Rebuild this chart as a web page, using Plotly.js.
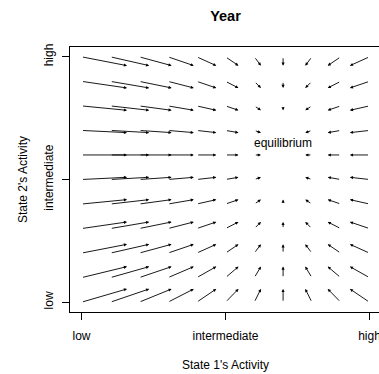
<!DOCTYPE html>
<html>
<head>
<meta charset="utf-8">
<script src="https://cdn.plot.ly/plotly-3.0.1.min.js"></script>
<style>
  html, body { margin: 0; padding: 0; overflow: hidden; background: #fff; }
  #chart { width: 381px; height: 374px; }
</style>
</head>
<body>
<div id="chart"></div>
<script>
// Grid of starting activity levels for both states (0 = low, 1 = high)
const state1Levels = [0, 0.1, 0.2, 0.3, 0.4, 0.5, 0.6, 0.7, 0.8, 0.9, 1];
const state2Levels = [0, 0.1, 0.2, 0.3, 0.4, 0.5, 0.6, 0.7, 0.8, 0.9, 1];

// One year's change in State 1's activity, by State 1's starting level
const state1Change = [0.158, 0.135, 0.113, 0.090, 0.068, 0.045, 0.023, 0.000, -0.023, -0.045, -0.068];
// One year's change in State 2's activity, by State 2's starting level
const state2Change = [0.054, 0.045, 0.036, 0.027, 0.018, 0.009, 0.000, -0.009, -0.018, -0.027, -0.036];

const tickVals = [0, 0.5, 1];
const tickText = ['low', 'intermediate', 'high'];

const equilibrium = { x: 0.7, y: 0.6, label: 'equilibrium' };

const FONT = 'Liberation Sans, Arial, sans-serif';

const annotations = [];
state1Levels.forEach((x, i) => {
  state2Levels.forEach((y, j) => {
    annotations.push({
      x: x + state1Change[i],
      y: y + state2Change[j],
      ax: x,
      ay: y,
      xref: 'x', yref: 'y', axref: 'x', ayref: 'y',
      text: '',
      showarrow: true,
      arrowhead: 2,
      arrowsize: 0.7,
      arrowwidth: 0.9,
      arrowcolor: '#000',
      standoff: 0,
      startstandoff: 0
    });
  });
});

annotations.push({
  x: equilibrium.x,
  y: equilibrium.y + 0.05,
  xref: 'x', yref: 'y',
  text: equilibrium.label,
  showarrow: false,
  font: { family: FONT, size: 12, color: '#000' },
  xanchor: 'center', yanchor: 'middle'
});

const layout = {
  width: 381,
  height: 374,
  margin: { l: 70, r: 0, t: 47, b: 62 },
  paper_bgcolor: '#fff',
  plot_bgcolor: '#fff',
  showlegend: false,
  title: {
    text: '<b>Year</b>',
    font: { family: FONT, size: 14.5, color: '#000' },
    xref: 'paper', x: 0.5, xanchor: 'center',
    yref: 'container', y: 1 - 16 / 374, yanchor: 'middle'
  },
  xaxis: {
    range: [-0.04, 1.04],
    tickvals: tickVals,
    ticktext: tickText,
    ticks: 'outside', ticklen: 7, tickwidth: 1, tickcolor: '#000',
    showline: true, mirror: true, linecolor: '#000', linewidth: 1,
    showgrid: false, zeroline: false,
    tickfont: { family: FONT, size: 12, color: '#000' },
    ticklabelstandoff: 6,
    title: { text: "State 1's Activity", font: { family: FONT, size: 12, color: '#000' }, standoff: 18 },
    automargin: false,
    fixedrange: true
  },
  yaxis: {
    range: [-0.04, 1.04],
    tickvals: tickVals,
    ticktext: tickText,
    tickangle: -90,
    ticks: 'outside', ticklen: 7, tickwidth: 1, tickcolor: '#000',
    showline: true, mirror: true, linecolor: '#000', linewidth: 1,
    showgrid: false, zeroline: false,
    tickfont: { family: FONT, size: 12, color: '#000' },
    ticklabelstandoff: 4,
    title: { text: "State 2's Activity", font: { family: FONT, size: 12, color: '#000' }, standoff: 12 },
    automargin: false,
    fixedrange: true
  },
  annotations: annotations
};

Plotly.newPlot('chart', [{ x: [], y: [], type: 'scatter', mode: 'markers', hoverinfo: 'skip' }], layout, { displayModeBar: false, staticPlot: true });
</script>
</body>
</html>
